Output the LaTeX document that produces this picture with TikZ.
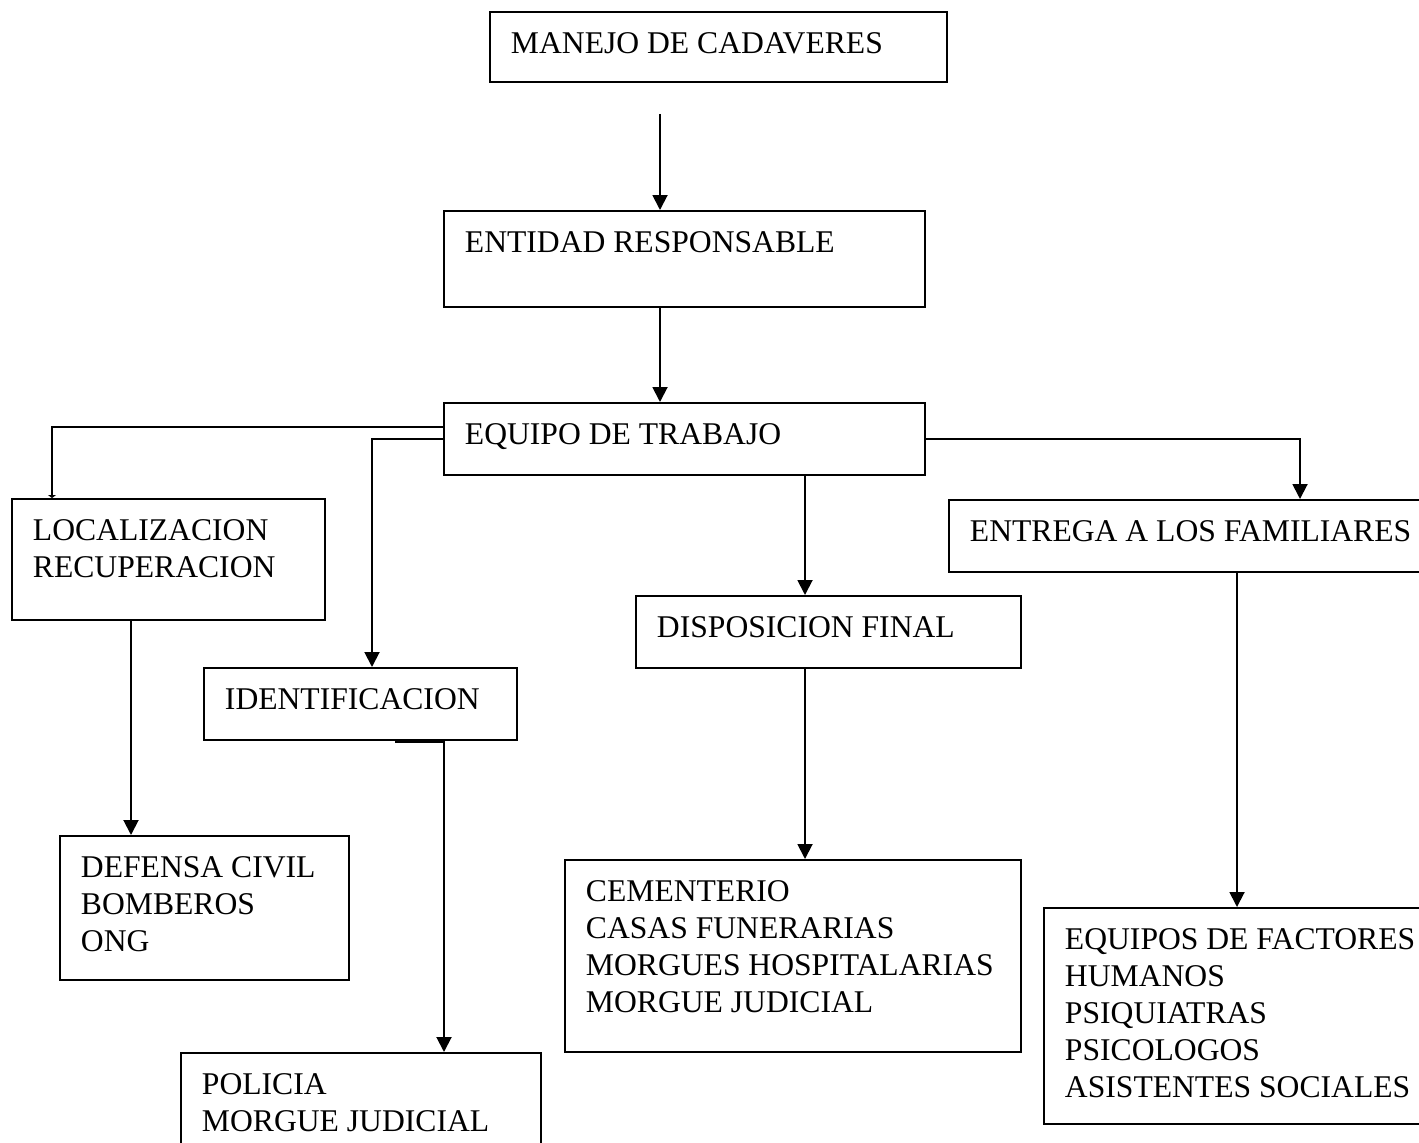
\documentclass[tikz,border=0pt]{standalone}
\usepackage{fontspec}
\setmainfont{Liberation Serif}
\usetikzlibrary{arrows.meta}
\newdimen\px \px=0.02cm
\newcommand{\caja}[3]{\parbox[t][\dimexpr#2\px-32\px\relax][t]{\dimexpr#1\px-42\px\relax}{\raggedright\strut#3}}
\begin{document}
\begin{tikzpicture}[x=0.02cm,y=-0.02cm,line width=1.1pt,
				box node/.style = {draw, anchor=north west, inner xsep=21\px, inner ysep=16\px, font=\fontsize{18}{21}\selectfont},
				flecha/.style = {-{Triangle[length=0.3cm,width=0.3cm]}},
				oculta/.style = {-{Triangle[length=0.06cm,width=0.16cm]}}]
				
				\useasboundingbox (0,0) rectangle (1419,1142);
				
				\node[box node] (0) at (489,11) {\caja{457}{70}{MANEJO DE CADAVERES}};
				\node[box node] (1) at (443,210) {\caja{481}{96}{ENTIDAD RESPONSABLE}};
				\node[box node] (2) at (443,402) {\caja{481}{72}{EQUIPO DE TRABAJO}};
				\node[box node] (3) at (11,498) {\caja{313}{121}{LOCALIZACION\\RECUPERACION}};
				\node[box node] (4) at (203,667) {\caja{313}{72}{IDENTIFICACION}};
				\node[box node] (5) at (635,595) {\caja{385}{72}{DISPOSICION FINAL}};
				\node[box node] (6) at (948,499) {\caja{500}{72}{ENTREGA A LOS FAMILIARES}};
				\node[box node] (7) at (59,835) {\caja{289}{144}{DEFENSA CIVIL\\BOMBEROS\\ONG}};
				\node[box node] (8) at (180,1052) {\caja{360}{130}{POLICIA\\MORGUE JUDICIAL}};
				\node[box node] (9) at (564,859) {\caja{456}{192}{CEMENTERIO\\CASAS FUNERARIAS\\MORGUES HOSPITALARIAS\\MORGUE JUDICIAL}};
				\node[box node] (10) at (1043,907) {\caja{420}{216}{EQUIPOS DE FACTORES\\HUMANOS\\PSIQUIATRAS\\PSICOLOGOS\\ASISTENTES SOCIALES}};
				\coordinate (inicio) at (660,114);
				
				\draw[flecha] (inicio) -- (inicio |- 1.north);
				\draw[flecha] (inicio |- 1.south) -- (inicio |- 2.north);
				\draw[oculta] ([yshift=-25\px]2.north west) -| ([xshift=41\px]3.north west);
				\draw[flecha] ([yshift=-37\px]2.north west) -| ([xshift=169\px]4.north west);
				\draw[flecha] ([xshift=362\px]2.south west) -- ([xshift=362\px]2.south west |- 5.north);
				\draw[flecha] (2.east) -| ([xshift=352\px]6.north west);
				\draw[flecha] ([xshift=120\px]3.south west) -- ([xshift=120\px]3.south west |- 7.north);
				\draw[flecha] ([xshift=192\px,yshift=-1\px]4.south west) -- ([xshift=241\px,yshift=-1\px]4.south west) -- ([xshift=241\px]4.south west |- 8.north);
				\draw[flecha] ([xshift=170\px]5.south west) -- ([xshift=170\px]5.south west |- 9.north);
				\draw[flecha] ([xshift=289\px]6.south west) -- ([xshift=289\px]6.south west |- 10.north);
				\end{tikzpicture}
\end{document}
